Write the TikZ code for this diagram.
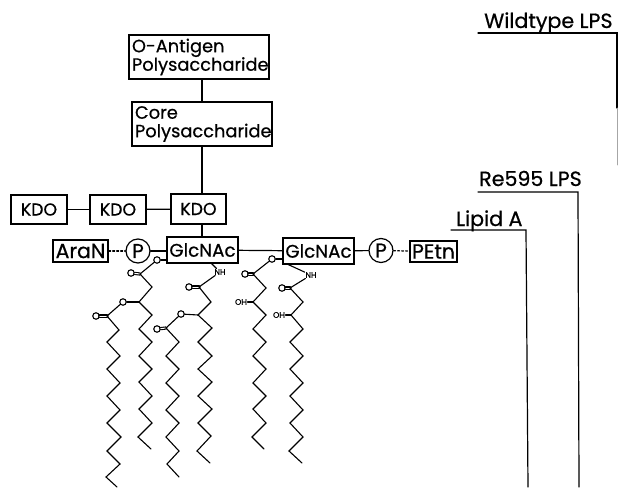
\documentclass[tikz,border=0pt]{standalone}
\usepackage{fontspec}
\setmainfont{Poppins}
\newcommand{\fsz}[2]{\fontsize{#1}{#2}\selectfont\addfontfeature{FakeBold=0.6}}
\begin{document}
\begin{tikzpicture}[x=1pt,y=-1pt,line cap=round,line join=miter,
  box/.style={draw,line width=1.3pt,inner sep=0pt,minimum height=#1},
  box/.default=27pt,
  ttl/.style={font=\fsz{20.6}{24},inner sep=0pt,anchor=base west},
  big/.style={font=\fsz{17.8}{18.5},align=left,text width=134pt},
  sugar/.style={font=\fsz{#1}{20}},
  link/.style={line width=1.2pt},
  dots/.style={line width=1.2pt,dash pattern=on 2pt off 2pt},
  chain/.style={line width=1.1pt},
  ring/.style={circle,draw,line width=1.2pt,inner sep=0pt,minimum size=24pt,font=\fsz{20}{22}},
  oo/.style={circle,draw,line width=1.1pt,inner sep=0pt,minimum size=6.5pt},
  lab/.style={font=\fsz{8}{9},inner sep=0.5pt}]
\useasboundingbox (0,0) rectangle (618,487);
% boxes
\node[box=44pt,big,minimum width=140pt] (oant) at (199,57) {O-Antigen\\Polysaccharide};
\node[box=44pt,big,minimum width=140pt] (core) at (202,124) {Core\\Polysaccharide};
\node[box=29pt,sugar=17.3,minimum width=56pt] (k1) at (39,209.5) {KDO};
\node[box=29pt,sugar=17.3,minimum width=56pt] (k2) at (118,209.5) {KDO};
\node[box=30pt,sugar=17.3,minimum width=55pt] (k3) at (198.5,209) {KDO};
\node[box=26pt,sugar=18.3,minimum width=71pt] (g1) at (202.5,250) {GlcNAc};
\node[box=26pt,sugar=18.3,minimum width=71pt] (g2) at (318.5,251) {GlcNAc};
\node[box=22pt,sugar=20.5,minimum width=55pt] (ara) at (80.5,251) {AraN};
\node[box=21pt,sugar=20.5,minimum width=47pt] (petn) at (433.5,251.5) {PEtn};
\node[ring] (p1) at (138,251) {P};
\node[ring] (p2) at (381,250.5) {P};
% connectors
\draw[link] (oant.south -| 202,0) -- (core.north -| 202,0);
\draw[link] (core.south -| 202,0) -- (k3.north -| 202,0);
\draw[link] (k3.south -| 202,0) -- (g1.north -| 202,0);
\draw[link] (k1) -- (k2);
\draw[link] (k2) -- (k3);
\draw[link] (g1) -- (g2);
\draw[link] (p1) -- (p1 -| g1.west);
\draw[link] (g2) -- (p2);
\draw[dots] (ara) -- (p1);
\draw[dots] (p2) -- (petn);
% titles
\node[ttl] (wt) at (484,28) {Wildtype LPS};
\node[ttl] (re) at (479,186) {Re595 LPS};
\node[ttl] (la) at (456,226) {Lipid A};
\coordinate (wta) at (478,33); \coordinate (wtb) at (617,33); \coordinate (wtc) at (617,108); \coordinate (wtd) at (617,165);
\coordinate (rea) at (478,192); \coordinate (reb) at (578,192); \coordinate (rec) at (579,487);
\coordinate (laa) at (451,230); \coordinate (lab) at (526,230); \coordinate (lac) at (528,487);
\draw[link] (wta) -- (wtb) -- (wtc);
\draw[line width=0.6pt,black!35] (wtc) -- (wtd);
\draw[link] (rea) -- (reb) -- (rec);
\draw[link] (laa) -- (lab) -- (lac);
% small atoms
\node[oo] (o1) at (157,260) {};
\node[oo] (o2) at (131,273) {};
\node[oo] (o3) at (123,302) {};
\node[oo] (o4) at (96,316) {};
\node[oo] (o5) at (189,287) {};
\node[oo] (o6) at (181,314) {};
\node[oo] (o7) at (157,329) {};
\node[oo] (o8) at (272,259) {};
\node[oo] (o9) at (245,274) {};
\node[oo] (o10) at (282,288) {};
\node[lab] (nh1) at (220,272) {NH};
\node[lab] (nh2) at (311,275) {NH};
\node[lab] (oh1) at (241,302) {OH};
\node[lab] (oh2) at (279,315) {OH};
% bonds to the sugars
\draw[chain] (o1) -- (o1 -| g1.west);
\draw[chain] (o8) -- (o8 -| g2.west);
\draw[chain] (211,263) -- (nh1);
\draw[chain] (287,264) -- (nh2);
% double bonds
\draw[chain,double,double distance=1pt] (o2) -- (140,274);
\draw[chain,double,double distance=1pt] (o4) -- (107,316);
\draw[chain,double,double distance=1pt] (o5) -- (199,287);
\draw[chain,double,double distance=1pt] (o7) -- (166,328);
\draw[chain,double,double distance=1pt] (o9) -- (253,274);
\draw[chain,double,double distance=1pt] (o10) -- (290,288);
% chains
\draw[chain] (o1) -- (140,274) -- (152,287) -- (139,302) -- (152,315) -- (139,329) -- (152,342) -- (139,356) -- (152,369) -- (139,382) -- (152,396) -- (139,409) -- (152,423) -- (138,437) -- (151,449);
\draw[chain] (139,302) -- (o3);
\draw[chain] (o3) -- (107,316) -- (119,330) -- (107,342) -- (120,356) -- (107,369) -- (120,383) -- (107,396) -- (120,410) -- (107,423) -- (121,437) -- (107,451) -- (120,464) -- (106,477) -- (117,487);
\draw[chain] (nh1) -- (199,287) -- (211,302) -- (198,315) -- (212,328) -- (198,342) -- (212,356) -- (198,369) -- (212,382) -- (198,396) -- (212,409) -- (198,423) -- (211,436) -- (197,451) -- (210,463);
\draw[chain] (198,315) -- (o6);
\draw[chain] (o6) -- (166,328) -- (179,342) -- (166,356) -- (179,369) -- (166,383) -- (179,396) -- (166,410) -- (179,423) -- (166,437) -- (179,451) -- (167,464) -- (179,477);
\draw[chain] (o8) -- (253,274) -- (266,288) -- (253,302) -- (266,315) -- (253,329) -- (266,342) -- (253,356) -- (266,369) -- (253,383) -- (266,396) -- (253,409) -- (266,423) -- (252,437) -- (264,449);
\draw[chain] (253,302) -- (oh1);
\draw[chain] (nh2) -- (290,288) -- (303,302) -- (291,315) -- (303,329) -- (290,342) -- (303,356) -- (290,369) -- (303,383) -- (290,396) -- (303,410) -- (290,423) -- (303,437) -- (289,451) -- (302,463);
\draw[chain] (291,315) -- (oh2);
\end{tikzpicture}
\end{document}
